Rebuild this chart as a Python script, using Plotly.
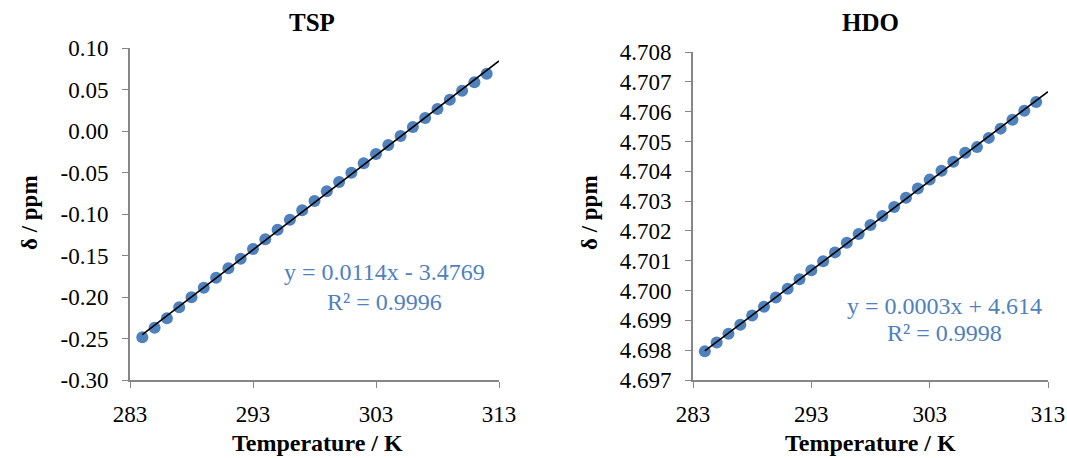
import numpy as np
import plotly.graph_objects as go

# ---- data ----
temperature = list(range(284, 313))  # K

tsp_shift = [-0.2486, -0.2370, -0.2257, -0.2124, -0.2004, -0.1888, -0.1767, -0.1654,
             -0.1539, -0.1422, -0.1305, -0.1189, -0.1069, -0.0955, -0.0843,
             -0.0727, -0.0614, -0.0502, -0.0389, -0.0277, -0.0169, -0.0060,
             0.0048, 0.0157, 0.0265, 0.0377, 0.0486, 0.0587, 0.0690]

hdo_shift = [4.69796, 4.69826, 4.69855, 4.69885, 4.69916, 4.69946, 4.69977, 4.70006,
             4.70038, 4.70068, 4.70098, 4.70128, 4.70160, 4.70190, 4.70220,
             4.70250, 4.70280, 4.70311, 4.70342, 4.70372, 4.70402, 4.70432,
             4.70462, 4.70481, 4.70512, 4.70543, 4.70573, 4.70603, 4.70632]

x_ticks = [283, 293, 303, 313]
tsp_ticks = [-0.30, -0.25, -0.20, -0.15, -0.10, -0.05, 0.00, 0.05, 0.10]
tsp_ticktext = ["-0.30", "-0.25", "-0.20", "-0.15", "-0.10", "-0.05", "0.00", "0.05", "0.10"]
hdo_ticks = [4.697, 4.698, 4.699, 4.700, 4.701, 4.702, 4.703, 4.704, 4.705, 4.706, 4.707, 4.708]
hdo_ticktext = ["%.3f" % v for v in hdo_ticks]

tsp_eq = ["y = 0.0114x - 3.4769", "R² = 0.9996"]
hdo_eq = ["y = 0.0003x + 4.614", "R² = 0.9998"]

W, H = 1067, 458
FONT = "Liberation Serif, Times New Roman, serif"
BLUE = "#4F81BD"
AXC = "#868686"

def px_x(p):
    return p / W

def px_y(p):
    return 1 - p / H

fig = go.Figure()

fig.add_trace(go.Scatter(x=temperature, y=tsp_shift, mode="markers",
                         marker=dict(color=BLUE, size=12), xaxis="x", yaxis="y",
                         showlegend=False, cliponaxis=False))
fig.add_trace(go.Scatter(x=temperature, y=hdo_shift, mode="markers",
                         marker=dict(color=BLUE, size=12), xaxis="x2", yaxis="y2",
                         showlegend=False, cliponaxis=False))

# trendlines computed from the data
for xs, ys, xa, ya in [(temperature, tsp_shift, "x", "y"), (temperature, hdo_shift, "x2", "y2")]:
    k, b = np.polyfit(xs, ys, 1)
    lx = [xs[0], 313]
    fig.add_trace(go.Scatter(x=lx, y=[k * v + b for v in lx], mode="lines",
                             line=dict(color="black", width=1.6), xaxis=xa, yaxis=ya,
                             showlegend=False, hoverinfo="skip"))

common_x = dict(range=[283, 313], tickvals=x_ticks, ticks="outside", ticklen=6,
                tickcolor=AXC, showline=True, linecolor=AXC, linewidth=2,
                showgrid=False, zeroline=False, ticklabelstandoff=6, automargin=False,
                tickfont=dict(family=FONT, size=23, color="black"))
common_y = dict(ticks="outside", ticklen=6, tickcolor=AXC, showline=True,
                linecolor=AXC, linewidth=2, showgrid=False, zeroline=False,
                ticklabelstandoff=9, automargin=False,
                tickfont=dict(family=FONT, size=23, color="black"))

fig.update_layout(
    width=W, height=H,
    margin=dict(l=0, r=0, t=0, b=0),
    paper_bgcolor="white", plot_bgcolor="white",
    xaxis=dict(domain=[px_x(130), px_x(499)], anchor="y", **common_x),
    yaxis=dict(domain=[px_y(380), px_y(48)], anchor="x", range=[-0.30, 0.10],
               tickvals=tsp_ticks, ticktext=tsp_ticktext, **common_y),
    xaxis2=dict(domain=[px_x(693), px_x(1048)], anchor="y2", **common_x),
    yaxis2=dict(domain=[px_y(380), px_y(52)], anchor="x2", range=[4.697, 4.708],
                tickvals=hdo_ticks, ticktext=hdo_ticktext, **common_y),
)

ann = []
def txt(x, y, s, size=22, bold=False, color="black", angle=0):
    ann.append(dict(x=px_x(x), y=px_y(y), xref="paper", yref="paper", text=("<b>%s</b>" % s) if bold else s,
                    showarrow=False, xanchor="center", yanchor="middle", textangle=angle,
                    font=dict(family=FONT, size=size, color=color)))

txt(312, 22, "TSP", size=25, bold=True)
txt(870, 22, "HDO", size=25, bold=True)
txt(317, 443, "Temperature / K", size=24, bold=True)
txt(870, 443, "Temperature / K", size=24, bold=True)
txt(30, 213, "δ / ppm", size=23, bold=True, angle=-90)
txt(590, 213, "δ / ppm", size=23, bold=True, angle=-90)
txt(384, 272, tsp_eq[0], size=24, color=BLUE)
txt(384, 302, tsp_eq[1], size=24, color=BLUE)
txt(944, 306, hdo_eq[0], size=24, color=BLUE)
txt(944, 333, hdo_eq[1], size=24, color=BLUE)
fig.update_layout(annotations=ann)

fig.write_html("out.html", config={"displayModeBar": False},
               post_script="document.body.style.margin='0';document.body.style.overflow='hidden';")
